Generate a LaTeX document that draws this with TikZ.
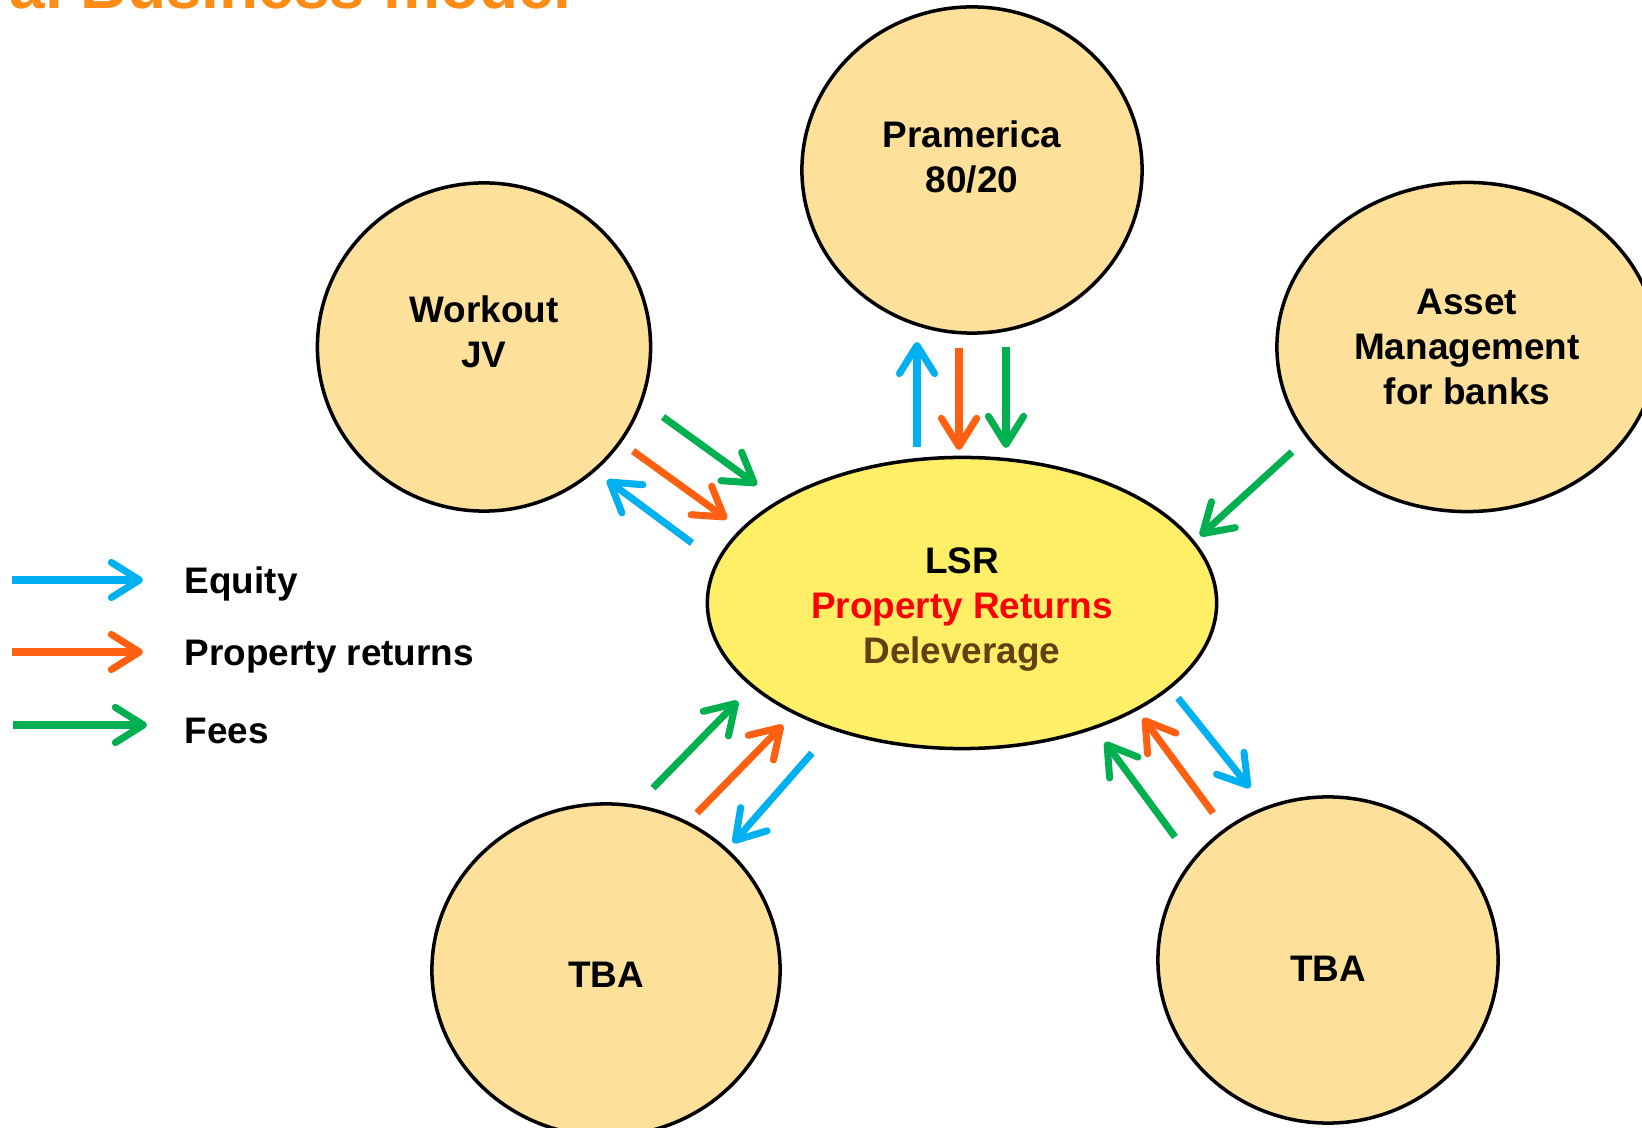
\documentclass[tikz,border=0pt]{standalone}
\usepackage{fontspec}
\setmainfont{Liberation Sans}
\usepackage{tikz}
\usetikzlibrary{calc, shapes, arrows.meta}

\definecolor{blobfill}{HTML}{FDE09A}
\definecolor{lsrfill}{HTML}{FFEF66}
\definecolor{eqblue}{HTML}{00B0F0}
\definecolor{retorange}{HTML}{FF5F10}
\definecolor{feegreen}{HTML}{00B050}
\definecolor{delbrown}{HTML}{633F14}
\definecolor{titleorange}{HTML}{FF8C14}

\begin{document}
\begin{tikzpicture}[x=0.01cm,y=-0.01cm]
\tikzstyle{blob}=[ellipse,draw,line width=1pt,fill=blobfill,inner sep=0pt]
\tikzstyle{txt}=[align=center,inner sep=0pt,font=\fontsize{10.5pt}{12.8pt}\selectfont\bfseries]
\tikzstyle{flow}=[line width=2pt,-{Straight Barb[round,length=8pt,width=10pt]}]
\tikzstyle{equity}=[flow,eqblue]
\tikzstyle{returns}=[flow,retorange]
\tikzstyle{fees}=[flow,feegreen]
\useasboundingbox (0,0) rectangle (1642,1128);
\clip (0,0) rectangle (1642,1128);
\node[anchor=base west,inner sep=0pt,text=titleorange,font=\fontsize{18.2pt}{20pt}\selectfont\bfseries] (T_0) at (9,9) {al Business model};
\node[blob,minimum width=3.4cm,minimum height=3.26cm] (C_pram) at (972,170) {};
\node[txt] (L_pram) at (972,157) {Pramerica\\80/20};
\node[blob,minimum width=3.33cm,minimum height=3.28cm] (C_work) at (484,347) {};
\node[txt] (L_work) at (484,332) {Workout\\JV};
\node[blob,txt,minimum width=3.8cm,minimum height=3.29cm] (C_asset) at (1467,347) {Asset\\Management\\for banks};
\node[blob,fill=lsrfill,minimum width=5.09cm,minimum height=2.91cm] (C_lsr) at (962,603) {};
\node[txt] (L_lsr) at (962,610) {LSR\\\textcolor{red}{Property Returns}\\\textcolor{delbrown}{Deleverage}};
\node[blob,minimum width=3.48cm,minimum height=3.32cm] (C_tba1) at (606,970) {};
\node[txt] (L_tba1) at (606,975) {TBA};
\node[blob,minimum width=3.4cm,minimum height=3.26cm] (C_tba2) at (1328,960) {};
\node[txt] (L_tba2) at (1328,969) {TBA};
\coordinate (a_1s) at (663,417); \coordinate (a_1e) at (757,485);
\coordinate (a_2s) at (633,451); \coordinate (a_2e) at (727,519);
\coordinate (a_3s) at (692,543); \coordinate (a_3e) at (607,480);
\coordinate (b_1s) at (917,447); \coordinate (b_1e) at (917,342);
\coordinate (b_2s) at (959,348); \coordinate (b_2e) at (959,450);
\coordinate (b_3s) at (1006,347); \coordinate (b_3e) at (1006,448);
\coordinate (c_1s) at (1292,452); \coordinate (c_1e) at (1200,536);
\coordinate (d_1s) at (653,788); \coordinate (d_1e) at (738,701);
\coordinate (d_2s) at (697,813); \coordinate (d_2e) at (783,725);
\coordinate (d_3s) at (812,753); \coordinate (d_3e) at (733,843);
\coordinate (e_1s) at (1175,837); \coordinate (e_1e) at (1105,742);
\coordinate (e_2s) at (1213,813); \coordinate (e_2e) at (1143,718);
\coordinate (e_3s) at (1178,698); \coordinate (e_3e) at (1250,788);
\draw[fees] (a_1s) -- (a_1e);
\draw[returns] (a_2s) -- (a_2e);
\draw[equity] (a_3s) -- (a_3e);
\draw[equity] (b_1s) -- (b_1e);
\draw[returns] (b_2s) -- (b_2e);
\draw[fees] (b_3s) -- (b_3e);
\draw[fees] (c_1s) -- (c_1e);
\draw[fees] (d_1s) -- (d_1e);
\draw[returns] (d_2s) -- (d_2e);
\draw[equity] (d_3s) -- (d_3e);
\draw[fees] (e_1s) -- (e_1e);
\draw[returns] (e_2s) -- (e_2e);
\draw[equity] (e_3s) -- (e_3e);
\coordinate (k_1s) at (12,580); \coordinate (k_1e) at (143,580);
\coordinate (k_2s) at (12,652); \coordinate (k_2e) at (143,652);
\coordinate (k_3s) at (13,725); \coordinate (k_3e) at (147,725);
\draw[equity] (k_1s) -- (k_1e);
\draw[returns] (k_2s) -- (k_2e);
\draw[fees] (k_3s) -- (k_3e);
\node[txt,anchor=base west] (K_1) at (184,594) {Equity};
\node[txt,anchor=base west] (K_2) at (184,666) {Property returns};
\node[txt,anchor=base west] (K_3) at (184,744) {Fees};
\end{tikzpicture}
\end{document}
